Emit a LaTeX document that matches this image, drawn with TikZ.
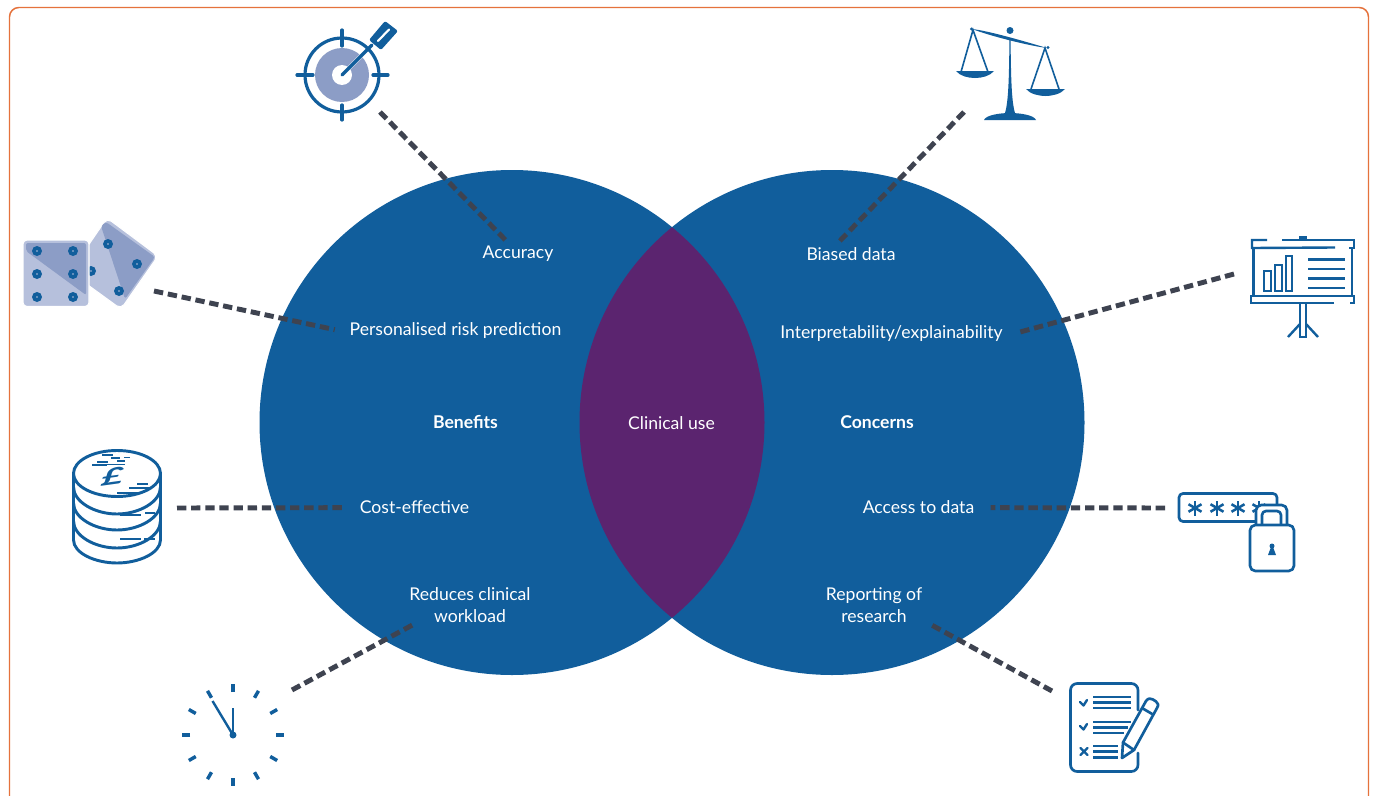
\documentclass[tikz,border=0pt]{standalone}
\usepackage{fontspec}
\setmainfont{Lato}
\usetikzlibrary{calc}
\definecolor{vblue}{HTML}{115E9C}
\definecolor{vpurple}{HTML}{5B246F}
\definecolor{vorange}{HTML}{E5723C}
\definecolor{vgrey}{HTML}{3E4350}
\definecolor{vmid}{HTML}{8C9DC6}
\definecolor{vlight}{HTML}{B6C0DC}
\tikzset{
 x=0.75pt,y=-0.75pt,
 lab/.style={text=white,font=\fontsize{13.2}{16.5}\selectfont,align=center,inner sep=0pt},
 conn/.style={draw=vgrey,line width=3.7pt,dash pattern=on 7pt off 3.6pt},
 ico/.style={draw=vblue,line width=2.4pt,line cap=round,line join=round},
 icot/.style={draw=vblue,line width=2pt,line cap=butt},
 pip/.style={fill=vblue,draw=none},
}
\begin{document}
\begin{tikzpicture}
\useasboundingbox (0,0) rectangle (1375,796);
\fill[white] (0,0) rectangle (1375,796);
\draw[vorange,line width=1.1pt,rounded corners=7pt] (9.5,800) -- (9.5,7.5) -- (1368.5,7.5) -- (1368.5,800);
% circles
\fill[vblue] (512,422.5) circle[radius=252.5];
\fill[vblue] (832,422.5) circle[radius=252.5];
\begin{scope}
\clip (512,422.5) circle[radius=252.5];
\fill[vpurple] (832,422.5) circle[radius=252.5];
\end{scope}
% labels
\node[lab] (tAcc) at (518,254) {Accuracy};
\node[lab] (tRisk) at (455.5,331) {Personalised risk prediction};
\node[lab,font=\fontsize{13.2}{16.5}\selectfont\bfseries] (tBen) at (465.5,422) {Benefits};
\node[lab] (tUse) at (671.5,423) {Clinical use};
\node[lab] (tCost) at (414.5,507) {Cost-effective};
\node[lab] (tWork) at (470,605) {Reduces clinical\\workload};
\node[lab] (tBias) at (851,254) {Biased data};
\node[lab] (tInt) at (891.5,334) {Interpretability/explainability};
\node[lab,font=\fontsize{13.2}{16.5}\selectfont\bfseries] (tCon) at (877,422) {Concerns};
\node[lab] (tData) at (918.5,507) {Access to data};
\node[lab] (tRep) at (874,605) {Reporting of\\research};
% icon anchor points
\coordinate (iTarget) at (380,112);
\coordinate (iDice) at (154,291);
\coordinate (iCoins) at (177,508);
\coordinate (iClock) at (292,690);
\coordinate (iScales) at (964,112);
\coordinate (iBoard) at (1234,274);
\coordinate (iLock) at (1165,508);
\coordinate (iList) at (1052,691);
% connectors
\draw[conn] (iTarget) -- ([xshift=-8pt,yshift=3pt]tAcc.north);
\draw[conn] (iDice) -- ([xshift=-11pt,yshift=1pt]tRisk.west);
\draw[conn] (iCoins) -- ([xshift=-10pt,yshift=-.5pt]tCost.west);
\draw[conn] (iClock) -- ([xshift=-42pt,yshift=-1pt]tWork.south);
\draw[conn] (iScales) -- ([xshift=-10pt,yshift=3pt]tBias.north);
\draw[conn] (iBoard) -- ([xshift=11pt,yshift=1pt]tInt.east);
\draw[conn] (iLock) -- ([xshift=12pt,yshift=-.5pt]tData.east);
\draw[conn] (iList) -- ([xshift=42pt,yshift=-1pt]tRep.south);
% target
\fill[vmid] (342,75) circle[radius=27];
\fill[white] (342,75) circle[radius=10];
\draw[white,line width=3pt] (342,75) -- (372,45);
\draw[ico] (342,75) circle[radius=37];
\foreach \a/\b/\c/\d in {297/75/313/75, 373/75/388/75, 342/30/342/46, 342/105/342/120}
 \draw[ico] (\a,\b) -- (\c,\d);
\draw[ico] (342,75) -- (372,45);
\fill[vblue,rounded corners=1.5pt] (369,40) -- (385,21) -- (398,31) -- (381,50) -- cycle;
\draw[white,line width=1.6pt,line cap=round] (378,41) -- (389,29.5);
% dice
\fill[vlight,rounded corners=4pt,draw=white,line width=.8pt] (107,218) -- (158,256) -- (121,309) -- (70,272) -- cycle;
\fill[vmid,rounded corners=2pt] (101,226) -- (106,222) -- (155,257) -- (125,299) -- cycle;
\foreach \p in {(108,244),(137,264),(119,291),(91,271)} {\fill[vblue] \p circle[radius=5]; \fill[vlight] \p circle[radius=.9];}
\fill[vlight,rounded corners=3pt,draw=white,line width=.8pt] (23,240) rectangle (89,306.5);
\fill[vmid,rounded corners=1.5pt] (26,243) -- (86,243) -- (86,295) -- (26,251) -- cycle;
\foreach \p in {(37,251),(73,251),(37,274),(73,274),(37,297),(73,297)} {\fill[vblue] \p circle[radius=5]; \fill[vlight] \p circle[radius=.9];}
% coins
\begin{scope}[ico,line width=2.2pt]
\draw (73.5,473) -- (73.5,540) (160.5,473) -- (160.5,540);
\draw (73.5,540) .. controls (73.5,553) and (95,563) .. (117,563) .. controls (139,563) and (160.5,553) .. (160.5,540);
\draw (73.5,521) .. controls (73.5,536) and (95,548) .. (117,548) .. controls (139,548) and (160.5,536) .. (160.5,521);
\draw (73.5,503) .. controls (73.5,518) and (95,530) .. (117,530) .. controls (139,530) and (160.5,518) .. (160.5,503);
\draw (73.5,487) .. controls (73.5,502) and (95,514) .. (117,514) .. controls (139,514) and (160.5,502) .. (160.5,487);
\draw[fill=white] (117,473.5) ellipse[x radius=43.5,y radius=23];
\end{scope}
\node[text=vblue,font=\fontsize{26}{26}\selectfont\bfseries,inner sep=0pt,xslant=.6,yscale=.7,rotate=12] (pound) at (113,476) {£};
\foreach \a/\b/\c in {93/125/119, 97/108/122, 110/100/120}
 \draw[vblue,line width=1pt] (\a,464.5) -- (\b,464.5);
\draw[vblue,line width=1pt] (92,465) -- (107,465) (111,458) -- (120,458) (124,457.5) -- (130,457.5) (97,462) -- (108,462) (102,455) -- (113,455) (117,461) -- (125,461);
\draw[vblue,line width=1pt] (117,493) -- (138,493) (129,488) -- (149,488) (137,484) -- (148,484);
\draw[vblue,line width=1pt] (120,515) -- (141,515) (145,513) -- (155,513) (120,539) -- (141,539) (144,539) -- (155,539);
% clock
\foreach \i in {0,30,...,330}
 \draw[vblue,line width=2.6pt] ($(233,735)+(\i:43)$) -- ($(233,735)+(\i:51)$);
\draw[vblue,line width=1.8pt] (233,735) -- (233,708);
\draw[vblue,line width=1.8pt] (233,735) -- (212.5,701);
\fill[vblue] (233,735) circle[radius=3.5];
% scales
\fill[vblue] (1010,30.5) circle[radius=3.5];
\fill[vblue] (972,29) .. controls (990,31) and (1030,43) .. (1047,48) .. controls (1030,46) and (990,36) .. cycle;
\fill[vblue] (1009.5,38) -- (1010.5,38) .. controls (1011,70) and (1011,100) .. (1015,113) -- (1005,113) .. controls (1009,100) and (1009,70) .. (1009.5,38) -- cycle;
\fill[vblue] (984,120) .. controls (986,115) and (1000,113) .. (1010,113) .. controls (1020,113) and (1034,115) .. (1036,120) -- cycle;
\draw[vblue,line width=1.2pt] (961,72) -- (973,30) -- (988,72);
\draw[vblue,line width=1.2pt] (1031,89) -- (1045,48) -- (1059,89);
\fill[vblue] (956,71) -- (994,71) .. controls (990,76) and (982,78) .. (975,78) .. controls (968,78) and (960,76) .. cycle;
\fill[vblue] (1026,89) -- (1065,89) .. controls (1061,94) and (1052,96) .. (1045.5,96) .. controls (1039,96) and (1030,94) .. cycle;
\fill[vblue] (971.5,29) circle[radius=1.6] (1048,47.5) circle[radius=1.6];
% presentation board
\begin{scope}[icot,line width=1.8pt]
\draw (1267,240) -- (1252,240) -- (1252,248) -- (1335,247.5);
\draw (1282,240) -- (1354,240) -- (1354,248) -- (1349,248);
\draw (1253.5,248) -- (1253.5,296) (1352,248) -- (1352,296);
\draw (1334,303) -- (1251,303) -- (1251,296) -- (1354,296) -- (1354,303) -- (1350,303);
\draw[line width=1.6pt] (1300,237.5) rectangle (1306,240);
\draw (1264,271) rectangle (1271,291);
\draw (1275,265) rectangle (1282,291);
\draw (1286,256) rectangle (1292,291);
\foreach \y in {259.5,269,278.5,288} \draw (1308,\y) -- (1345,\y);
\draw (1300,303) -- (1300,337) -- (1306,337) -- (1306,303);
\draw (1300,324) -- (1288,337) (1306,324) -- (1318,337);
\end{scope}
% password and lock
\draw[ico,line width=2pt,rounded corners=3pt] (1179,493.5) rectangle (1277,521.5);
\foreach \x in {1195,1217,1238,1259} \foreach \a in {0,60,120}
 \draw[vblue,line width=1.9pt] ($(\x,508)+(90+\a:7.5)$) -- ($(\x,508)+(270+\a:7.5)$);
\draw[ico,line width=2pt,fill=white,rounded corners=4pt] (1256,525) -- (1256,505) -- (1287,505) -- (1287,525);
\draw[ico,line width=2pt,fill=white,rounded corners=3pt] (1262,525) -- (1262,511) -- (1281,511) -- (1281,525);
\draw[ico,line width=2pt,fill=white,rounded corners=4pt] (1250,525) rectangle (1294,571);
\fill[vblue] (1272,546) circle[radius=2.5] (1271,547) -- (1273,547) -- (1276,555) -- (1268,555) -- cycle;
% checklist
\draw[ico,line width=2pt,rounded corners=5pt] (1138,710) -- (1138,683.5) -- (1070.5,683.5) -- (1070.5,771.5) -- (1138,771.5) -- (1138,753);
\draw[ico,line width=1.8pt] (1080,702) -- (1083.5,705.5) -- (1087,700);
\draw[ico,line width=1.8pt] (1080,726) -- (1083.5,729.5) -- (1087,724);
\draw[ico,line width=1.8pt] (1080.5,748) -- (1087.5,755) (1087.5,748) -- (1080.5,755);
\begin{scope}[icot]
\foreach \y/\e in {697/1131,702.5/1131,708/1131,722/1131,727.5/1128,733/1124,746/1118,751.5/1118,757.5/1118}
 \draw (1093,\y) -- (\e,\y);
\end{scope}
\draw[ico,line width=2pt] (1122,758) -- (1123,742.5) -- (1146,701) .. controls (1148,698) and (1151,698) .. (1153,699.5) -- (1156,701.5) .. controls (1158,703) and (1159,705) .. (1157,708) -- (1134,750) -- cycle;
\draw[ico,line width=2pt] (1123,742.5) -- (1134,750);
\draw[ico,line width=2pt] (1142,708) -- (1153,714.5);
\end{tikzpicture}
\end{document}
